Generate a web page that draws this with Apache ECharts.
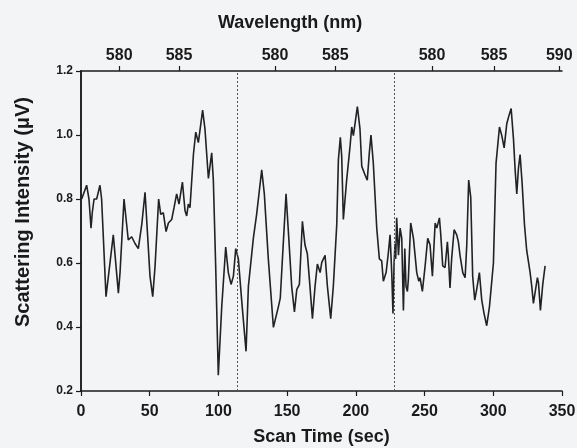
<!DOCTYPE html>
<html>
<head>
<meta charset="utf-8">
<script src="https://cdn.jsdelivr.net/npm/echarts@6/dist/echarts.min.js"></script>
<style>
html, body { margin: 0; padding: 0; background: #f3f4f6; }
#chart { width: 577px; height: 448px; }
</style>
</head>
<body>
<div id="chart"></div>
<script>
// scan time (sec) and scattering intensity (uV)
var scanTime = [
    0.5, 1.7, 4.1, 5.8, 7.3, 8.2, 9.5, 11.4, 13.8, 15.0,
    18.2, 23.5, 27.2, 28.4, 31.3, 34.4, 36.9, 39.3, 41.7, 44.2,
    46.6, 48.3, 50.2, 52.2, 53.9, 56.5, 58.0, 59.9, 61.9, 63.6,
    66.0, 67.7, 69.6, 71.3, 73.8, 75.7, 76.9, 78.1, 79.3, 81.8,
    83.5, 85.4, 86.6, 88.5, 90.2, 92.7, 95.1, 96.3, 98.0, 99.9,
    102.4, 105.3, 107.2, 109.2, 110.9, 112.6, 114.5, 116.9, 120.1, 121.8,
    125.4, 127.8, 131.5, 133.4, 136.3, 140.0, 143.6, 145.0, 147.3, 149.2,
    150.9, 153.3, 155.3, 157.0, 158.9, 161.1, 163.0, 164.7, 166.2, 168.4,
    170.3, 172.0, 174.0, 175.2, 177.6, 179.3, 181.7, 183.6, 186.1, 187.3,
    188.7, 189.7, 190.9, 193.3, 195.8, 197.0, 198.2, 201.1, 203.0, 204.3,
    206.7, 208.3, 209.8, 211.0, 212.7, 215.2, 217.1, 218.8, 220.0, 222.0,
    223.7, 224.9, 226.1, 227.0, 227.8, 228.5, 229.0, 229.7, 231.0, 232.2,
    233.4, 234.6, 235.6, 236.5, 237.5, 238.2, 239.9, 241.9, 244.3, 245.8,
    246.7, 248.4, 250.4, 252.3, 254.0, 255.7, 257.7, 258.9, 260.8, 261.8,
    263.2, 264.9, 266.6, 267.3, 268.5, 269.7, 271.5, 273.4, 274.6, 275.8,
    277.8, 279.5, 280.7, 282.1, 283.6, 285.0, 286.5, 287.9, 289.9, 291.6,
    293.3, 295.2, 297.2, 298.4, 300.1, 302.0, 304.5, 306.2, 307.9, 309.8,
    311.5, 313.0, 314.7, 315.9, 317.1, 318.3, 319.5, 321.0, 322.7, 324.3,
    325.6, 326.8, 328.0, 329.2, 330.4, 332.1, 332.9, 334.3, 336.0, 337.7
];
var intensity = [
    0.80, 0.805, 0.843, 0.80, 0.709, 0.757, 0.80, 0.80, 0.843, 0.80,
    0.495, 0.688, 0.506, 0.57, 0.80, 0.672, 0.682, 0.661, 0.645, 0.72,
    0.821, 0.698, 0.559, 0.495, 0.591, 0.80, 0.752, 0.757, 0.698, 0.725,
    0.736, 0.773, 0.816, 0.784, 0.853, 0.763, 0.747, 0.784, 0.773, 0.939,
    1.009, 0.976, 0.982, 1.078, 1.019, 0.864, 0.944, 0.859, 0.591, 0.249,
    0.463, 0.65, 0.57, 0.533, 0.559, 0.645, 0.613, 0.484, 0.324, 0.527,
    0.677, 0.752, 0.891, 0.816, 0.613, 0.399, 0.463, 0.49, 0.67, 0.816,
    0.698, 0.527, 0.447, 0.517, 0.533, 0.73, 0.656, 0.629, 0.549, 0.426,
    0.527, 0.597, 0.57, 0.602, 0.624, 0.527, 0.426, 0.527, 0.72, 0.923,
    0.993, 0.934, 0.736, 0.859, 0.966, 1.025, 0.998, 1.089, 1.019, 0.902,
    0.875, 0.859, 0.944, 1.0, 0.912, 0.709, 0.613, 0.607, 0.543, 0.57,
    0.634, 0.688, 0.57, 0.442, 0.60, 0.66, 0.613, 0.741, 0.624, 0.709,
    0.677, 0.452, 0.645, 0.527, 0.511, 0.549, 0.725, 0.677, 0.57, 0.543,
    0.554, 0.511, 0.591, 0.677, 0.656, 0.559, 0.725, 0.709, 0.741, 0.688,
    0.591, 0.586, 0.666, 0.624, 0.522, 0.613, 0.704, 0.688, 0.666, 0.624,
    0.57, 0.554, 0.656, 0.859, 0.805, 0.559, 0.484, 0.517, 0.57, 0.484,
    0.442, 0.404, 0.463, 0.468, 0.60, 0.912, 1.025, 0.998, 0.96, 1.035,
    1.062, 1.083, 0.987, 0.891, 0.816, 0.896, 0.939, 0.848, 0.72, 0.64,
    0.634, 0.57, 0.527, 0.474, 0.479, 0.554, 0.538, 0.452, 0.533, 0.591
];
// top axis: wavelength ticks (position in scan seconds, label in nm)
var topTickSec = [27.8, 71.3, 141.2, 185.0, 255.4, 300.5, 348.0];
var topTickNm = ["580", "585", "580", "585", "580", "585", "590"];
// scan restarts (dotted verticals)
var scanBreaks = [113.8, 227.6];

var FONT = "'Liberation Sans', Arial, sans-serif";
var INK = "#1a1a1a";

function chartInit() {
    var myChart = echarts.init(document.getElementById('chart'));
    var data = [];
    for (var i = 0; i < scanTime.length; i++) {
        data.push([scanTime[i], intensity[i]]);
    }
    var breakLines = [];
    for (var j = 0; j < scanBreaks.length; j++) {
        breakLines.push({ xAxis: scanBreaks[j] });
    }
    var axisLine = { show: true, lineStyle: { color: INK, width: 1.5 } };
    var option = {
        backgroundColor: '#f3f4f6',
        animation: false,
        graphic: [{
            type: 'text',
            left: 218,
            top: 14,
            style: {
                text: 'Wavelength (nm)',
                fill: INK,
                font: 'bold 18px ' + FONT
            }
        }, {
            // y axis title, set by hand because it sits above the grid's middle
            type: 'text',
            x: 23,
            y: 212,
            rotation: Math.PI / 2,
            style: {
                text: 'Scattering Intensity (\u03bcV)',
                fill: INK,
                font: 'bold 20px ' + FONT,
                align: 'center',
                verticalAlign: 'middle'
            }
        }],
        grid: { left: 81, right: 15, top: 71, bottom: 57, outerBoundsMode: 'none' },
        xAxis: [{
            type: 'value',
            position: 'bottom',
            min: 0,
            max: 350,
            interval: 50,
            name: 'Scan Time (sec)',
            nameLocation: 'middle',
            nameGap: 37,
            nameTextStyle: { color: INK, fontFamily: FONT, fontWeight: 'bold', fontSize: 18 },
            axisLine: axisLine,
            axisTick: { show: true, length: 5, lineStyle: { color: INK, width: 1.2 } },
            axisLabel: { color: INK, fontFamily: FONT, fontWeight: 'bold', fontSize: 16, margin: 13 },
            splitLine: { show: false }
        }, {
            type: 'value',
            position: 'top',
            min: 0,
            max: 350,
            axisLine: axisLine,
            axisTick: { show: true, length: 5, customValues: topTickSec, lineStyle: { color: INK, width: 1.2 } },
            axisLabel: {
                color: INK, fontFamily: FONT, fontWeight: 'bold', fontSize: 16, margin: 7,
                customValues: topTickSec,
                formatter: function(v) {
                    var best = 0;
                    for (var k = 1; k < topTickSec.length; k++) {
                        if (Math.abs(topTickSec[k] - v) < Math.abs(topTickSec[best] - v)) {
                            best = k;
                        }
                    }
                    return topTickNm[best];
                }
            },
            splitLine: { show: false }
        }],
        yAxis: [{
            type: 'value',
            min: 0.2,
            max: 1.2,
            interval: 0.2,
            axisLine: axisLine,
            axisTick: { show: true, length: 5, lineStyle: { color: INK, width: 1.2 } },
            axisLabel: {
                color: INK, fontFamily: FONT, fontWeight: 'bold', fontSize: 12, margin: 8,
                formatter: function(v) { return v.toFixed(1); }
            },
            splitLine: { show: false }
        }, {
            type: 'value',
            position: 'right',
            min: 0.2,
            max: 1.2,
            interval: 0.2,
            axisLine: axisLine,
            axisTick: { show: false },
            axisLabel: { show: false },
            splitLine: { show: false }
        }],
        series: [{
            type: 'line',
            xAxisIndex: 0,
            yAxisIndex: 0,
            data: data,
            showSymbol: false,
            lineStyle: { color: '#222', width: 1.6 },
            markLine: {
                silent: true,
                symbol: 'none',
                label: { show: false },
                lineStyle: { color: '#555', width: 1, type: [2, 2] },
                data: breakLines
            }
        }]
    };
    myChart.setOption(option);
}

chartInit();
</script>
</body>
</html>
